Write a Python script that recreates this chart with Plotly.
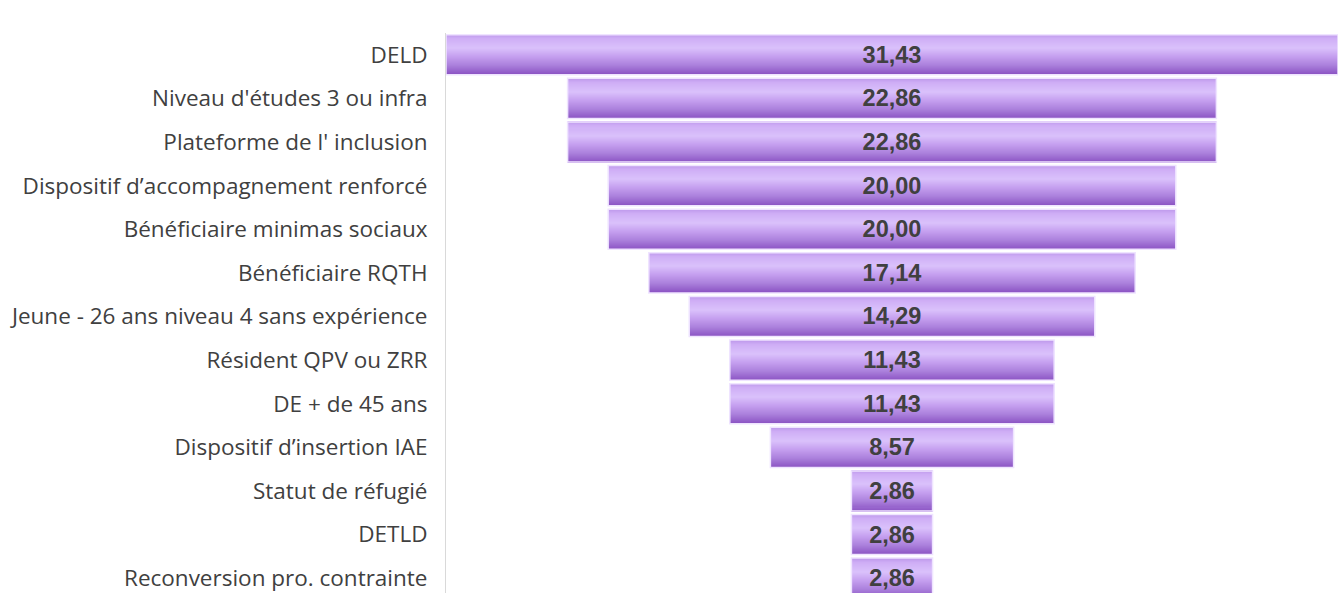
import plotly.graph_objects as go

categories = [
    "DELD",
    "Niveau d'études 3 ou infra",
    "Plateforme de l' inclusion",
    "Dispositif d’accompagnement renforcé",
    "Bénéficiaire minimas sociaux",
    "Bénéficiaire RQTH",
    "Jeune - 26 ans niveau 4 sans expérience",
    "Résident QPV ou ZRR",
    "DE + de 45 ans",
    "Dispositif d’insertion IAE",
    "Statut de réfugié",
    "DETLD",
    "Reconversion pro. contrainte",
]
values = [31.43, 22.86, 22.86, 20.00, 20.00, 17.14, 14.29, 11.43, 11.43, 8.57, 2.86, 2.86, 2.86]

# vertical colour profile of the bar fill (top -> bottom)
profile_pos = [0.0, 0.12, 0.35, 0.55, 0.78, 1.0]
profile_col = [(0xbc, 0x97, 0xea), (0xcf, 0xae, 0xf6), (0xda, 0xc1, 0xfb),
               (0xc6, 0xa1, 0xf0), (0xab, 0x80, 0xdc), (0x8c, 0x55, 0xc4)]


def colour_at(t):
    for k in range(len(profile_pos) - 1):
        a, b = profile_pos[k], profile_pos[k + 1]
        if a <= t <= b:
            f = (t - a) / (b - a)
            c = [round(profile_col[k][j] + f * (profile_col[k + 1][j] - profile_col[k][j])) for j in range(3)]
            return "rgb(%d,%d,%d)" % tuple(c)
    return "rgb(%d,%d,%d)" % profile_col[-1]


BAR_W = 0.92
N_STRIPS = 40
strip_h = BAR_W / N_STRIPS

fig = go.Figure()
for i in range(N_STRIPS):
    t = (i + 0.5) / N_STRIPS
    fig.add_trace(go.Funnel(
        y=categories,
        x=values,
        width=strip_h * 1.5 if i < N_STRIPS - 1 else strip_h,
        offset=-BAR_W / 2 + i * strip_h,
        marker=dict(color=colour_at(t), line=dict(width=0)),
        connector=dict(visible=False),
        textinfo="none",
        hoverinfo="skip",
        showlegend=False,
    ))

# outline + value labels
fig.add_trace(go.Funnel(
    y=categories,
    x=values,
    width=BAR_W,
    offset=-BAR_W / 2,
    marker=dict(color="rgba(0,0,0,0)", line=dict(color="#efe4ff", width=1.5)),
    connector=dict(visible=False),
    texttemplate="%{x:.2f}",
    textposition="inside",
    insidetextanchor="middle",
    constraintext="none",
    textfont=dict(family="Arial", size=23.5, color="#404040", weight="bold"),
    showlegend=False,
))

fig.update_layout(
    width=1344,
    height=593,
    funnelmode="overlay",
    separators=", ",
    paper_bgcolor="white",
    plot_bgcolor="white",
    margin=dict(l=446, r=6, t=33, b=0),
    xaxis=dict(visible=False, range=[-15.715, 15.715], automargin=False),
    yaxis=dict(
        range=[12.34, -0.5],
        automargin=False,
        showline=True,
        linecolor="#d9d9d9",
        linewidth=1,
        showgrid=False,
        ticks="outside",
        ticklen=13,
        tickcolor="rgba(0,0,0,0)",
        tickfont=dict(family="Open Sans", size=22.5, color="#404040"),
    ),
    showlegend=False,
)

fig.write_html(
    "out.html",
    config={"displayModeBar": False},
    post_script="document.body.style.margin='0';document.body.style.overflow='hidden';",
)
